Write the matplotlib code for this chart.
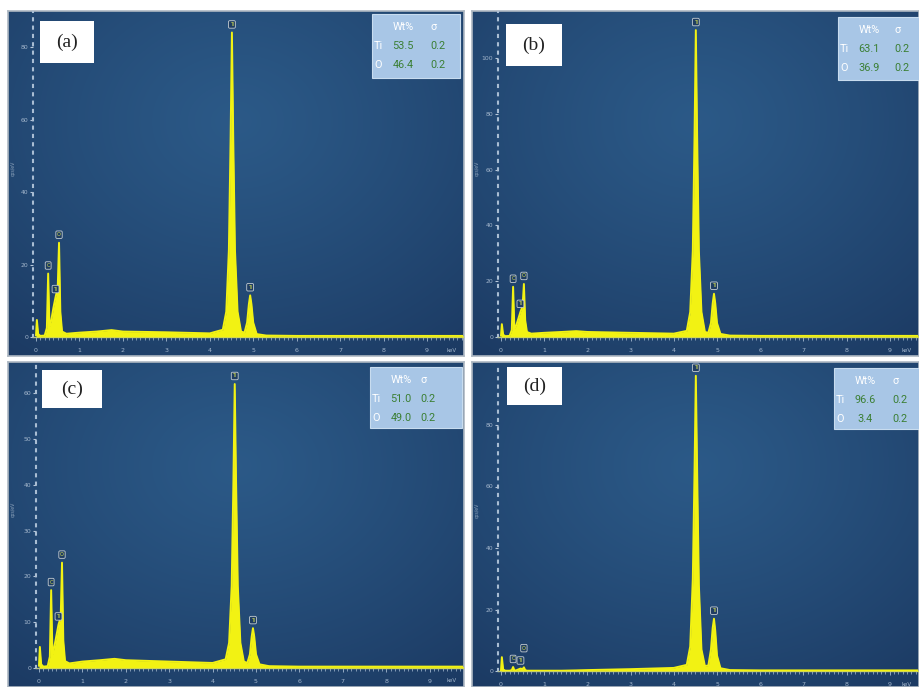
import numpy as np
import matplotlib.pyplot as plt
from matplotlib.patches import Rectangle
from matplotlib.ticker import MultipleLocator, FormatStrFormatter

W, H = 919, 687

# energy grid (keV), shared by the four EDS spectra
energy = [0.00, 0.02, 0.05, 0.10, 0.20, 0.25, 0.28, 0.31, 0.35, 0.40,
          0.45, 0.50, 0.53, 0.56, 0.60, 0.70, 1.00, 1.40, 1.74, 2.00,
          3.00, 4.00, 4.30, 4.38, 4.44, 4.48, 4.51, 4.54, 4.58, 4.64,
          4.72, 4.80, 4.86, 4.90, 4.93, 4.96, 5.00, 5.08, 5.30, 6.00,
          7.00, 8.00, 9.00, 9.90]

# counts (cps/eV) for samples a-d
counts_a = [0.5, 4.7, 0.8, 0.3, 0.4, 2.5, 17.5, 3.0, 4.5, 8.0,
            11.0, 13.5, 26.0, 7.0, 1.5, 0.9, 1.2, 1.5, 1.9, 1.5,
            1.3, 1.0, 2.0, 7.0, 24.0, 55.0, 84.0, 55.0, 24.0, 7.0,
            1.5, 1.2, 4.0, 9.0, 11.5, 9.0, 4.0, 0.8, 0.4, 0.3,
            0.3, 0.3, 0.3, 0.3]
counts_b = [0.5, 4.6, 0.8, 0.3, 0.4, 2.5, 18.0, 3.0, 4.0, 6.5,
            9.0, 11.0, 19.0, 6.0, 1.8, 1.2, 1.5, 1.8, 2.1, 1.8,
            1.5, 1.2, 2.2, 9.0, 31.0, 72.0, 110.0, 72.0, 31.0, 9.0,
            1.8, 1.5, 5.0, 12.0, 15.5, 12.0, 5.0, 1.1, 0.5, 0.4,
            0.4, 0.4, 0.4, 0.4]
counts_c = [0.5, 4.6, 0.8, 0.3, 0.4, 2.5, 17.0, 3.0, 4.5, 7.0,
            9.5, 11.0, 23.0, 6.0, 1.5, 1.0, 1.4, 1.7, 2.0, 1.7,
            1.4, 1.1, 1.9, 5.5, 18.0, 41.0, 62.0, 41.0, 18.0, 5.5,
            1.4, 1.1, 3.0, 6.8, 8.7, 6.8, 3.0, 0.8, 0.4, 0.3,
            0.3, 0.3, 0.3, 0.3]
counts_d = [0.3, 4.5, 0.5, 0.1, 0.1, 0.3, 1.3, 0.2, 0.2, 0.5,
            0.8, 0.6, 1.2, 0.3, 0.1, 0.1, 0.1, 0.1, 0.2, 0.3,
            0.6, 1.0, 2.0, 8.0, 30.0, 65.0, 96.0, 65.0, 28.0, 7.0,
            1.6, 1.8, 7.0, 14.0, 17.0, 13.0, 5.0, 0.9, 0.3, 0.2,
            0.2, 0.2, 0.2, 0.2]

# peak identification tags
tag_element = ["C", "Ti", "O", "Ti", "Ti"]
tag_energy = [0.28, 0.45, 0.53, 4.51, 4.93]

# quantification (Wt%)
panel_names = ["(a)", "(b)", "(c)", "(d)"]
wt_ti = ["53.5", "63.1", "51.0", "96.6"]
wt_o = ["46.4", "36.9", "49.0", "3.4"]
sigma_ti = ["0.2", "0.2", "0.2", "0.2"]
sigma_o = ["0.2", "0.2", "0.2", "0.2"]

spectra = [counts_a, counts_b, counts_c, counts_d]

# layout in pixels: panel frame, axis origin, scales, label and table boxes
layout = [
    dict(frame=(8, 11, 464, 356), origin=(36, 337), kev=43.44, cnt=3.625, step=20, top=80,
         label=(40, 21, 94, 63), box=(372, 14, 460, 78), sig=66, tagoff=[0, 0, 0, 0, 0]),
    dict(frame=(472, 11, 919, 356), origin=(501, 337), kev=43.2, cnt=2.79, step=20, top=100,
         label=(506, 24, 562, 66), box=(838, 17, 925, 80), sig=64, tagoff=[0, 0, 0, 0, 0]),
    dict(frame=(8, 362, 464, 687), origin=(39, 668), kev=43.4, cnt=4.58, step=10, top=60,
         label=(42, 370, 102, 408), box=(370, 367, 462, 428), sig=58, tagoff=[0, 0, 0, 0, 0]),
    dict(frame=(472, 362, 919, 687), origin=(501, 671), kev=43.2, cnt=3.075, step=20, top=80,
         label=(507, 367, 562, 405), box=(834, 368, 925, 429), sig=66, tagoff=[0, 0, 8, 0, 0]),
]

YELLOW = "#f2f213"
TICK = "#93a9c2"


def fig_rect(x0, y0, x1, y1):
    return [x0 / W, 1 - y1 / H, (x1 - x0) / W, (y1 - y0) / H]


def draw_gradient(ax):
    ny, nx = 200, 260
    yy, xx = np.mgrid[0:1:ny * 1j, 0:1:nx * 1j]
    r = np.sqrt(((xx - 0.5) / 0.8) ** 2 + ((yy - 0.32) / 0.85) ** 2)
    t = np.clip(r, 0, 1)[..., None] ** 1.2
    inner = np.array([0.17, 0.35, 0.53])
    outer = np.array([0.11, 0.23, 0.39])
    ax.imshow(inner * (1 - t) + outer * t, extent=(0, 1, 0, 1), origin="upper",
              aspect="auto", interpolation="bilinear")


fig = plt.figure(figsize=(W / 100, H / 100), dpi=100)
fig.patch.set_facecolor("white")

for i, (counts, lay) in enumerate(zip(spectra, layout)):
    fx0, fy0, fx1, fy1 = lay["frame"]
    ox, oy = lay["origin"]

    # panel background
    bg = fig.add_axes(fig_rect(fx0, fy0, fx1, fy1))
    draw_gradient(bg)
    bg.set_xticks([])
    bg.set_yticks([])
    for s in bg.spines.values():
        s.set_color("#aeb8c2")
        s.set_linewidth(1.2)

    # spectrum axes; left spine sits 3 px left of 0 keV
    ax = fig.add_axes(fig_rect(ox - 3, fy0 + 1, fx1 - 1, oy))
    ax.patch.set_alpha(0)
    ax.set_xlim(-3 / lay["kev"], (fx1 - 1 - ox) / lay["kev"])
    ax.set_ylim(0, (oy - fy0 - 1) / lay["cnt"])

    ax.fill_between(energy, counts, 0, color=YELLOW, lw=0, zorder=3)
    ax.plot(energy, counts, color=YELLOW, lw=1.4, zorder=4)

    ax.spines["top"].set_visible(False)
    ax.spines["right"].set_visible(False)
    ax.spines["left"].set_linestyle((0, (1, 3)))
    ax.spines["left"].set_linewidth(1.5)
    ax.spines["left"].set_color("#a9bdd3")
    ax.spines["bottom"].set_color("#b4bf8a")
    ax.spines["bottom"].set_linewidth(1.0)

    ax.xaxis.set_major_locator(MultipleLocator(1))
    ax.xaxis.set_minor_locator(MultipleLocator(0.1))
    ax.xaxis.set_major_formatter(FormatStrFormatter("%d"))
    ax.set_yticks(np.arange(0, lay["top"] + 1, lay["step"]))
    ax.yaxis.set_major_formatter(FormatStrFormatter("%d"))
    ax.tick_params(axis="x", which="major", length=3, width=0.7, color=TICK,
                   labelcolor="#a3b6cc", labelsize=4.5, pad=5)
    ax.tick_params(axis="x", which="minor", length=1.8, width=0.6, color=TICK)
    ax.tick_params(axis="y", which="major", length=2.5, width=0.8, color="#b8c8da",
                   labelcolor="#a3b6cc", labelsize=4.4, pad=1)

    ax_w = fx1 - 1 - (ox - 3)
    ax.text(1 - 6 / ax_w, -13 / (oy - fy0 - 1), "keV", transform=ax.transAxes,
            ha="right", va="center", fontsize=4, color="#a3b6cc")
    ax.text((fx0 + 5 - (ox - 3)) / ax_w, 0.52, "cps/eV", transform=ax.transAxes,
            rotation=90, ha="center", va="center", fontsize=3.3, color="#8ea4bc")

    # peak tags
    for el, e, off in zip(tag_element, tag_energy, lay["tagoff"]):
        yv = np.interp(e, energy, counts)
        ax.annotate(el, xy=(e, yv), xytext=(0, 4 + off), textcoords="offset points",
                    ha="center", va="bottom", fontsize=3.6, color="#d6e052", zorder=6,
                    bbox=dict(boxstyle="round,pad=0.25", fc="#1f3d62", ec="#c4ccd2", lw=0.6))

    # sample label
    lx0, ly0, lx1, ly1 = lay["label"]
    fig.add_artist(Rectangle((lx0 / W, 1 - ly1 / H), (lx1 - lx0) / W, (ly1 - ly0) / H,
                             transform=fig.transFigure, fc="white", ec="none", zorder=5))
    fig.text((lx0 + lx1) / 2 / W, 1 - (ly0 + ly1) / 2 / H, panel_names[i],
             ha="center", va="center", fontsize=14, family="Liberation Serif",
             color="#222222", zorder=6)

    # Wt% table
    bx0, by0, bx1, by1 = lay["box"]
    fig.add_artist(Rectangle((bx0 / W, 1 - by1 / H), (bx1 - bx0) / W, (by1 - by0) / H,
                             transform=fig.transFigure, fc="#a8c6e6", ec="#c8dcef",
                             lw=0.8, zorder=5))
    row_y = [by0 + 13, by0 + 32, by0 + 51]
    sx = bx0 + lay["sig"]
    kw = dict(ha="center", va="center", fontsize=7.8, family="Roboto", zorder=6)
    fig.text((bx0 + 31) / W, 1 - row_y[0] / H, "Wt%", color="white", **kw)
    fig.text((sx - 4) / W, 1 - row_y[0] / H, "σ", color="white", **kw)
    fig.text((bx0 + 6) / W, 1 - row_y[1] / H, "Ti", color="white", **kw)
    fig.text((bx0 + 6) / W, 1 - row_y[2] / H, "O", color="white", **kw)
    fig.text((bx0 + 31) / W, 1 - row_y[1] / H, wt_ti[i], color="#3b7f34", **kw)
    fig.text((bx0 + 31) / W, 1 - row_y[2] / H, wt_o[i], color="#3b7f34", **kw)
    fig.text(sx / W, 1 - row_y[1] / H, sigma_ti[i], color="#3b7f34", **kw)
    fig.text(sx / W, 1 - row_y[2] / H, sigma_o[i], color="#3b7f34", **kw)

fig.savefig("out.png", dpi=100)
